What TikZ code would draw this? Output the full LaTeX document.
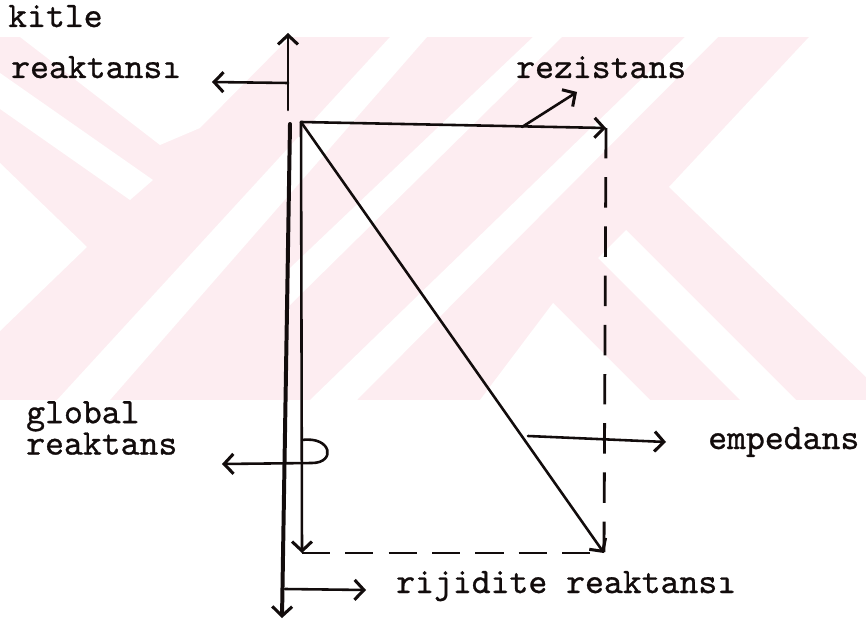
\documentclass[tikz,border=0pt]{standalone}
\usepackage{fontspec}
\newfontfamily\typew[FakeBold=0.8]{lmmono10-regular.otf}
\usepackage{tikz}
\usetikzlibrary{arrows.meta, positioning}
\definecolor{WmPink}{RGB}{253,237,241}
\definecolor{Ink}{RGB}{18,12,12}

\begin{document}
\begin{tikzpicture}[x=0.03cm, y=-0.03cm,
  vec/.style={Ink, line width=2.2pt, line cap=round,
              -{Straight Barb[length=8pt, width=17pt, line width=2.6pt]}},
  axis/.style={vec, line width=3.4pt},
  dashy/.style={Ink, line width=2.4pt, dash pattern=on 26pt off 16pt},
  lbl/.style={font=\typew\fontsize{30.7}{25.5}\selectfont, Ink,
              inner sep=0pt, anchor=base west, align=left},
]
\useasboundingbox (0,0) rectangle (866,621);

% watermark in the back
\begin{scope}
  \clip (0,37) rectangle (866,400);
  \fill[WmPink] (0,37) rectangle (866,400);
  \fill[white] (20,37) -- (290,37) -- (200,128) -- (160,145) -- cycle;
  \fill[white] (0,73) -- (153,180) -- (130,200) -- (0,109) -- cycle;
  \fill[white] (0,163) -- (87,247) -- (0,331) -- cycle;
  \fill[white] (57,400) -- (110,400) -- (427,37) -- (390,37) -- cycle;
  \fill[white] (533,37) -- (562,37) -- (290,305) -- (290,268) -- cycle;
  \fill[white] (310,400) -- (357,400) -- (718,37) -- (685,37) -- cycle;
  \fill[white] (809,37) -- (866,37) -- (866,377) -- (669,187) -- cycle;
  \fill[white] (626,230) -- (796,400) -- (740,400) -- (598,258) -- cycle;
  \fill[white] (480,400) -- (553,303) -- (650,400) -- cycle;
\end{scope}

% points
\coordinate (kBot) at (288,110);
\coordinate (kTop) at (288,33);
\coordinate (kMid) at (288,83);
\coordinate (kEnd) at (212,82);
\coordinate (gTop) at (290,124);
\coordinate (gBot) at (282,618);
\coordinate (O) at (301,122);
\coordinate (R) at (606,128);
\coordinate (X) at (302,553);
\coordinate (Z) at (604,553);
\coordinate (rA) at (522,127);
\coordinate (rB) at (577,92);
\coordinate (eA) at (528,436);
\coordinate (eB) at (666,442);
\coordinate (hA) at (302,440);
\coordinate (hB) at (222,464);
\coordinate (jA) at (285,589);
\coordinate (jB) at (366,590);

% labels
\node[lbl] (kitle) at (8,27) {kitle};
\node[lbl] (kitleR) at (11,78) {reaktansı};
\node[lbl] (rez) at (516,78) {rezistans};
\node[lbl, anchor=south west] (glob) at (26,455) {global\\reaktans};
\node[lbl] (emp) at (708,449) {empedans};
\node[lbl] (rij) at (396,593) {rijidite reaktansı};

% vectors
\draw[vec] (kBot) -- (kTop);
\draw[vec] (kMid) -- (kEnd);
\draw[axis] (gTop) -- (gBot);
\draw[vec] (O) -- (X);
\draw[vec] (O) -- (R);
\draw[vec] (O) -- (Z);
\draw[dashy] (R) -- (Z);
\draw[dashy, line width=2.2pt, dash pattern=on 24pt off 13pt] (X) -- (Z);

% pointers
\draw[vec] (rA) -- (rB);
\draw[vec] (eA) -- (eB);
\draw[vec] (hA) .. controls (332,436) and (336,463) .. (312,463) -- (hB);
\draw[vec] (jA) -- (jB);
\end{tikzpicture}
\end{document}
